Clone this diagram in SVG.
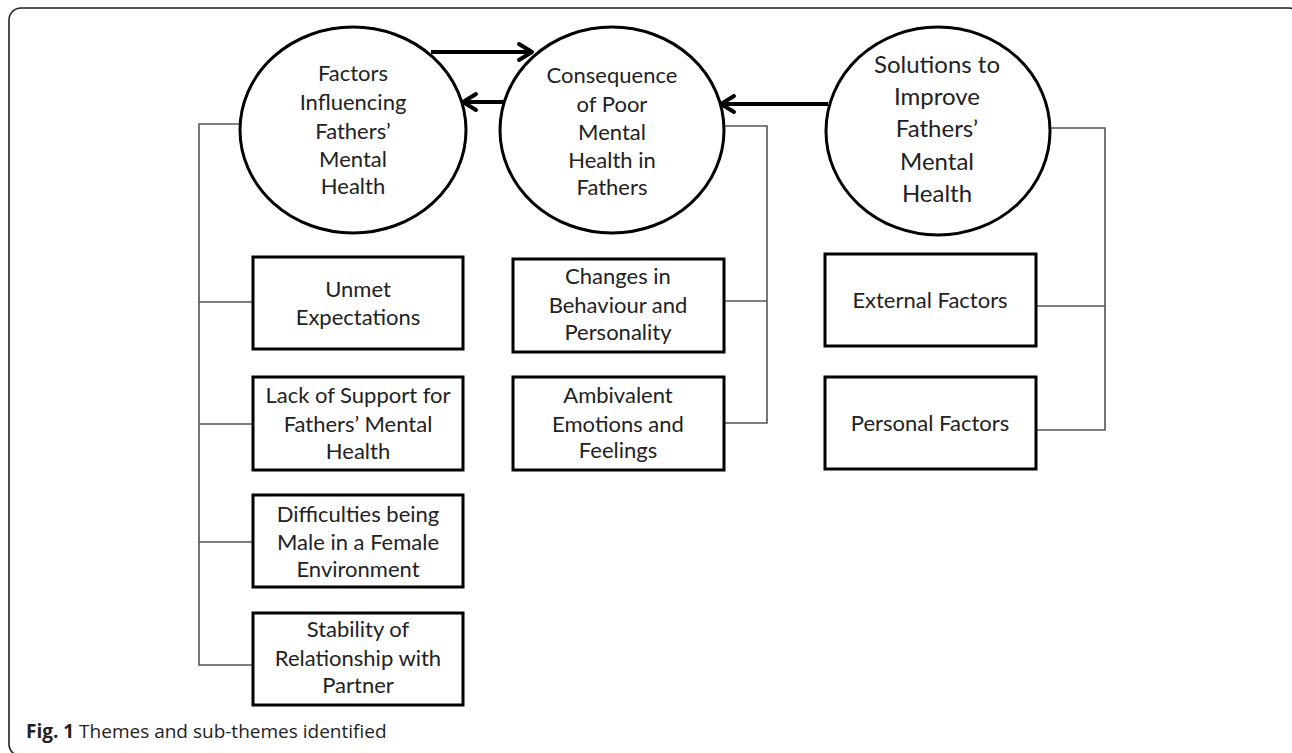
<svg xmlns="http://www.w3.org/2000/svg" width="1292" height="753" viewBox="0 0 1292 753">
<defs>
<style>
.frame{fill:none;stroke:#222;stroke-width:1.6}
.theme{fill:#fff;stroke:#000;stroke-width:3}
.box{fill:#fff;stroke:#000;stroke-width:3}
.t{font-family:Lato,"Open Sans","Liberation Sans",sans-serif;font-size:22px;fill:#222;text-anchor:middle}
.t3{font-size:24px}
.link{fill:none;stroke:#555;stroke-width:1.6}
.arrow{fill:none;stroke:#000;stroke-width:4}
.head{fill:none;stroke:#000;stroke-width:4;stroke-linecap:round;stroke-linejoin:round}
.cap{font-family:"Open Sans","Noto Sans",sans-serif;font-size:19px;fill:#222}
</style>
</defs>
<rect class="frame" x="9" y="8" width="1292" height="748" rx="12"/>
<g id="connectors">
<polyline class="link" points="240,124 199,124 199,665 253,665"/>
<line class="link" x1="199" y1="302" x2="253" y2="302"/>
<line class="link" x1="199" y1="424" x2="253" y2="424"/>
<line class="link" x1="199" y1="542" x2="253" y2="542"/>
<polyline class="link" points="724,126 767,126 767,423 724,423"/>
<line class="link" x1="724" y1="301" x2="767" y2="301"/>
<polyline class="link" points="1051,128 1105,128 1105,430 1036,430"/>
<line class="link" x1="1036" y1="306" x2="1105" y2="306"/>
<line class="arrow" x1="431" y1="52" x2="531" y2="52"/>
<polyline class="head" points="519,44 532,52 519,60"/>
<line class="arrow" x1="505" y1="102" x2="464" y2="102"/>
<polyline class="head" points="476,94 463,102 476,110"/>
<line class="arrow" x1="828" y1="104" x2="722" y2="104"/>
<polyline class="head" points="734,96 721,104 734,112"/>
</g>
<g id="theme1">
<ellipse class="theme" cx="353" cy="130" rx="113" ry="103"/>
<text class="t" x="353" y="81">Factors</text>
<text class="t" x="353" y="110">Influencing</text>
<text class="t" x="353" y="139">Fathers’</text>
<text class="t" x="353" y="167">Mental</text>
<text class="t" x="353" y="194">Health</text>
</g>
<g id="theme2">
<ellipse class="theme" cx="612" cy="130" rx="112" ry="103"/>
<text class="t" x="612" y="83">Consequence</text>
<text class="t" x="612" y="112">of Poor</text>
<text class="t" x="612" y="140">Mental</text>
<text class="t" x="612" y="168">Health in</text>
<text class="t" x="612" y="195">Fathers</text>
</g>
<g id="theme3">
<ellipse class="theme" cx="938" cy="131" rx="112" ry="104"/>
<text class="t t3" x="937" y="73">Solutions to</text>
<text class="t t3" x="937" y="105">Improve</text>
<text class="t t3" x="937" y="137">Fathers’</text>
<text class="t t3" x="937" y="170">Mental</text>
<text class="t t3" x="937" y="202">Health</text>
</g>
<g id="unmet">
<rect class="box" x="253" y="257" width="210" height="92"/>
<text class="t" x="358" y="297">Unmet</text>
<text class="t" x="358" y="325">Expectations</text>
</g>
<g id="lack">
<rect class="box" x="253" y="377" width="210" height="93"/>
<text class="t" x="358" y="403">Lack of Support for</text>
<text class="t" x="358" y="432">Fathers’ Mental</text>
<text class="t" x="358" y="459">Health</text>
</g>
<g id="difficulties">
<rect class="box" x="253" y="495" width="210" height="92"/>
<text class="t" x="358" y="522">Difficulties being</text>
<text class="t" x="358" y="550">Male in a Female</text>
<text class="t" x="358" y="577">Environment</text>
</g>
<g id="stability">
<rect class="box" x="253" y="613" width="210" height="92"/>
<text class="t" x="358" y="637">Stability of</text>
<text class="t" x="358" y="666">Relationship with</text>
<text class="t" x="358" y="693">Partner</text>
</g>
<g id="changes">
<rect class="box" x="513" y="259" width="211" height="93"/>
<text class="t" x="618" y="284">Changes in</text>
<text class="t" x="618" y="313">Behaviour and</text>
<text class="t" x="618" y="340">Personality</text>
</g>
<g id="ambivalent">
<rect class="box" x="513" y="377" width="211" height="93"/>
<text class="t" x="618" y="403">Ambivalent</text>
<text class="t" x="618" y="432">Emotions and</text>
<text class="t" x="618" y="458">Feelings</text>
</g>
<g id="external">
<rect class="box" x="825" y="254" width="211" height="92"/>
<text class="t" x="930" y="308">External Factors</text>
</g>
<g id="personal">
<rect class="box" x="825" y="377" width="211" height="92"/>
<text class="t" x="930" y="431">Personal Factors</text>
</g>
<text class="cap" x="26" y="738"><tspan font-weight="bold">Fig. 1</tspan> Themes and sub-themes identified</text>
</svg>
